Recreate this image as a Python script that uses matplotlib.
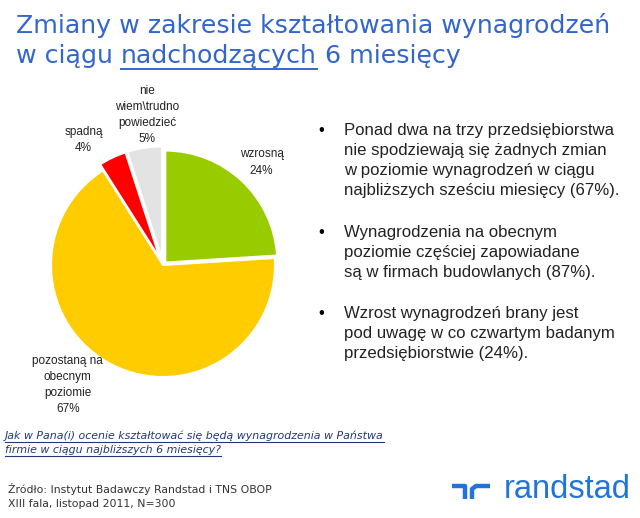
import matplotlib.pyplot as plt
from matplotlib.lines import Line2D

# dane
kategorie = ["wzrosną", "pozostaną na\nobecnym\npoziomie", "spadną", "nie\nwiem\\trudno\npowiedzieć"]
wartosci = [24, 67, 4, 5]
kolory = ["#99CC00", "#FFCC00", "#FF0000", "#E3E3E3"]
odsuniecie = [0.03, 0.0, 0.06, 0.06]
# pozycje etykiet (jednostki osi kołowej)
etykiety_xy = [(0.88, 0.915), (-0.85, -1.07), (-0.71, 1.12), (-0.14, 1.34)]

punkty = [
    "Ponad dwa na trzy przedsiębiorstwa\nnie spodziewają się żadnych zmian\nw poziomie wynagrodzeń w ciągu\nnajbliższych sześciu miesięcy (67%).",
    "Wynagrodzenia na obecnym\npoziomie częściej zapowiadane\nsą w firmach budowlanych (87%).",
    "Wzrost wynagrodzeń brany jest\npod uwagę w co czwartym badanym\nprzedsiębiorstwie (24%).",
]
punkty_y = [123, 225, 306]  # px od góry

NIEBIESKI = "#3366CC"

fig = plt.figure(figsize=(6.4, 5.18), dpi=100)
W, H = 640, 518


def fx(px):
    return px / W


def fy(py):
    return 1 - py / H


r = fig.canvas.get_renderer()

# tytuł - rozmiar dopasowany do szerokości pierwszej linii
tyt_font = dict(family="DejaVu Sans", color=NIEBIESKI, va="baseline", ha="left")
t0 = fig.text(fx(16), fy(33), "Zmiany w zakresie kształtowania wynagrodzeń", fontsize=18, **tyt_font)
szer = t0.get_window_extent(r).width
rozm = 18 * 595 / szer
t0.set_fontsize(rozm)
t1 = fig.text(fx(16), fy(63), "w ciągu ", fontsize=rozm, **tyt_font)
bb = t1.get_window_extent(r)
t2 = fig.text(bb.x1 / W, fy(63), "nadchodzących", fontsize=rozm, **tyt_font)
bb2 = t2.get_window_extent(r)
fig.text(bb2.x1 / W, fy(63), " 6 miesięcy", fontsize=rozm, **tyt_font)
fig.add_artist(Line2D([bb2.x0 / W, bb2.x1 / W], [fy(69), fy(69)], color=NIEBIESKI, lw=1.4))

# wykres kołowy
R = 112
cx, cy = 163, 265
ax = fig.add_axes([fx(cx - 1.2 * R), fy(cy + 1.2 * R), 2.4 * R / W, 2.4 * R / H])
ax.pie(wartosci, colors=kolory, startangle=90, counterclock=False, explode=odsuniecie,
       wedgeprops=dict(edgecolor="white", linewidth=1.5))
ax.set_xlim(-1.2, 1.2)
ax.set_ylim(-1.2, 1.2)
ax.set_aspect("equal")
ax.axis("off")

for kat, v, (x, y) in zip(kategorie, wartosci, etykiety_xy):
    ax.text(x, y, f"{kat}\n{v}%", ha="center", va="center", fontsize=8.5,
            family="Liberation Sans", linespacing=1.45, color="#222222")

# punkty po prawej
for txt, y in zip(punkty, punkty_y):
    fig.text(fx(318), fy(y), "•", fontsize=12, va="top", ha="left", family="Liberation Sans")
    fig.text(fx(344), fy(y), txt, fontsize=12.1, va="top", ha="left",
             family="Liberation Sans", linespacing=1.42, color="#222222")

# pytanie
pyt = fig.text(fx(5), fy(436), "Jak w Pana(i) ocenie kształtować się będą wynagrodzenia w Państwa",
               fontsize=7.9, style="italic", color="#1F3A7A", va="center")
pyt2 = fig.text(fx(5), fy(450), "firmie w ciągu najbliższych 6 miesięcy?",
                fontsize=7.9, style="italic", color="#1F3A7A", va="center")
for t in (pyt, pyt2):
    b = t.get_window_extent(r)
    fig.add_artist(Line2D([b.x0 / W, b.x1 / W], [b.y0 / H - 0.002] * 2, color="#1F3A7A", lw=0.8))

# źródło
fig.text(fx(8), fy(489), "Źródło: Instytut Badawczy Randstad i TNS OBOP",
         fontsize=7.8, color="#333333", va="center")
fig.text(fx(8), fy(504), "XIII fala, listopad 2011, N=300",
         fontsize=7.8, color="#333333", va="center")

# logo
LOGO = "#2175D9"
fig.add_artist(Line2D([fx(452), fx(465), fx(465)], [fy(486), fy(486), fy(499)], color=LOGO, lw=3.2,
                      solid_capstyle="butt"))
fig.add_artist(Line2D([fx(472), fx(472), fx(476), fx(490)], [fy(499), fy(489), fy(486), fy(486)],
                      color=LOGO, lw=3.2, solid_capstyle="butt", solid_joinstyle="round"))
fig.text(fx(504), fy(489), "randstad", fontsize=23.5, color=LOGO, va="center", ha="left",
         family="Liberation Sans")

fig.savefig("out.png", dpi=100)
